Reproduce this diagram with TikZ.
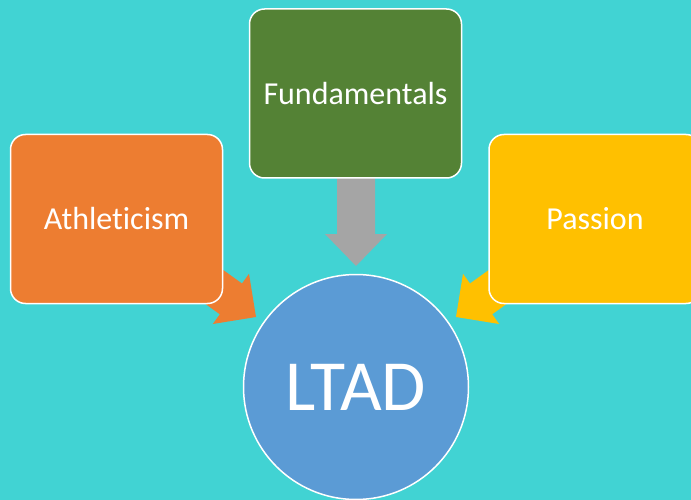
\documentclass[tikz,border=0pt]{standalone}
\usepackage{fontspec}
\setmainfont{Carlito}[Ligatures={NoCommon}]
\definecolor{bgc}{RGB}{65,211,211}
\definecolor{orangeA}{RGB}{237,125,49}
\definecolor{greenA}{RGB}{84,130,53}
\definecolor{yellowA}{RGB}{255,192,0}
\definecolor{blueA}{RGB}{91,155,213}
\definecolor{grayA}{RGB}{165,165,165}
\begin{document}
\begin{tikzpicture}[x=1pt,y=-1pt,
  box/.style={draw=white, line width=1.5pt, rounded corners=15pt,
    minimum width=212pt, minimum height=169pt, inner sep=0pt,
    text=white, font=\fontsize{32}{38}\selectfont},
  hub/.style={circle, draw=white, line width=1.5pt, minimum size=225pt,
    inner sep=0pt, fill=blueA, text=white, font=\fontsize{72}{86}\selectfont}]
\useasboundingbox (0,0) rectangle (691,500);
\clip (0,0) rectangle (691,500);
\fill[bgc] (0,0) rectangle (691,500);
% block arrows
\coordinate (ot) at (256,317);
\coordinate (yt) at (456,317);
\coordinate (gt) at (356,266);
\fill[orangeA] (186.0,243.2) -- (242.0,283.5) -- (249.0,273.8) -- (ot)
  -- (212.8,324.0) -- (219.8,314.3) -- (163.8,274.0) -- cycle;
\fill[yellowA] (526.0,243.2) -- (470.0,283.5) -- (463.0,273.8) -- (yt)
  -- (499.2,324.0) -- (492.2,314.3) -- (548.2,274.0) -- cycle;
\fill[grayA] (337,150) -- (337,234) -- (325,234) -- (gt) -- (387,234)
  -- (375,234) -- (375,150) -- cycle;
% boxes
\node[box, fill=orangeA] (ath) at (116.5,219) {Athleticism};
\node[box, fill=greenA] (fun) at (355.5,93.5) {Fundamentals};
\node[box, fill=yellowA] (pas) at (595,219) {Passion};
\node[hub] (ltad) at (356,387) {LTAD};
\end{tikzpicture}
\end{document}
